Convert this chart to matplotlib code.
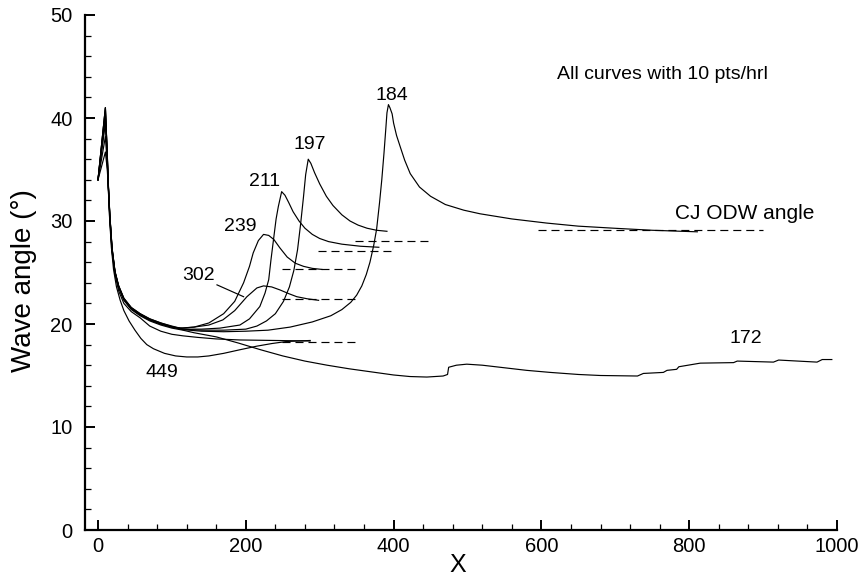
import matplotlib
matplotlib.use("Agg")
import matplotlib.pyplot as plt
from matplotlib.ticker import MultipleLocator

plt.rcParams['font.family'] = ['Liberation Sans', 'DejaVu Sans']

# ---------------- data ----------------
x_172 = [0, 10, 12.5, 14, 16, 19, 23, 28, 35, 45, 57, 70, 85, 100, 115, 130, 160, 190, 220,
         250, 280, 310, 340, 370, 400, 422, 445, 467, 473, 474.5, 485, 499, 520, 544, 580,
         612, 650, 680, 730, 738, 765, 770, 783, 786, 815, 860, 865, 914, 921, 973, 980, 993]
y_172 = [34, 41, 36.3, 33.3, 30.3, 27.1, 24.9, 23.5, 22.3, 21.4, 20.8, 20.3, 19.9, 19.6, 19.4,
         19.15, 18.75, 18.15, 17.5, 16.9, 16.4, 16.0, 15.65, 15.35, 15.05, 14.9, 14.85, 14.95,
         15.1, 15.8, 16.0, 16.1, 16.0, 15.8, 15.5, 15.3, 15.1, 15.0, 14.95, 15.2, 15.3, 15.5,
         15.6, 15.85, 16.2, 16.25, 16.4, 16.3, 16.5, 16.3, 16.55, 16.55]

x_184 = [0, 10, 12.5, 14, 16, 19, 23, 28, 35, 45, 57, 70, 85, 100, 115, 140, 170, 200, 230,
         260, 290, 315, 330, 342, 350, 357, 363, 368, 373, 377, 381, 384, 387, 389.5, 391,
         393, 395, 398, 400, 404, 409, 415, 422.5, 435, 450, 470, 495, 517, 560, 607, 650,
         698, 750, 811]
y_184 = [34, 41, 36.4, 33.4, 30.4, 27.2, 25.0, 23.6, 22.4, 21.5, 20.9, 20.4, 20.0, 19.7,
         19.45, 19.3, 19.25, 19.3, 19.4, 19.7, 20.2, 20.8, 21.4, 22.1, 22.8, 23.7, 24.8, 26.0,
         27.6, 29.2, 31.8, 34.0, 36.6, 39.0, 40.5, 41.3, 41.0, 40.4, 39.5, 38.3, 37.2, 35.9,
         34.6, 33.3, 32.4, 31.6, 31.05, 30.7, 30.2, 29.8, 29.5, 29.3, 29.1, 28.95]

x_197 = [0, 10, 12.5, 14, 16, 19, 23, 28, 35, 45, 57, 70, 85, 100, 115, 140, 170, 200, 215,
         228, 240, 251, 259, 265, 270, 274, 278, 281, 284.5, 288, 293, 300, 309, 318, 330,
         341, 352, 364, 377, 391]
y_197 = [34, 41, 36.5, 33.5, 30.5, 27.3, 25.0, 23.6, 22.4, 21.5, 20.9, 20.4, 20.0, 19.7,
         19.5, 19.4, 19.4, 19.5, 19.8, 20.3, 21.0, 22.2, 23.6, 25.2, 27.2, 29.6, 32.3, 34.5,
         36.0, 35.6, 34.7, 33.6, 32.4, 31.5, 30.6, 30.0, 29.6, 29.3, 29.1, 29.0]

x_211 = [0, 10, 12.5, 14, 16, 19, 23, 28, 35, 45, 57, 70, 85, 100, 115, 140, 165, 192, 205,
         219, 226, 231, 234, 237.5, 241, 244, 248.5, 253, 258, 264, 272, 280, 290, 300, 312,
         330, 355, 380]
y_211 = [34, 40.5, 36.6, 33.6, 30.6, 27.4, 25.1, 23.7, 22.5, 21.6, 21.0, 20.5, 20.1, 19.75,
         19.5, 19.5, 19.6, 19.9, 20.5, 21.7, 23.0, 24.3, 26.2, 28.2, 30.2, 31.4, 32.85, 32.5,
         31.8, 30.9, 30.0, 29.3, 28.7, 28.3, 28.0, 27.75, 27.55, 27.45]

x_239 = [0, 10, 12.5, 14, 16, 19, 23, 28, 35, 45, 57, 70, 85, 100, 115, 130, 150, 170, 185,
         197, 205, 210, 217, 224, 231, 238, 246, 256, 267, 278, 290, 303]
y_239 = [34, 38.2, 35.5, 33.4, 30.5, 27.3, 25.0, 23.6, 22.4, 21.5, 20.9, 20.4, 20.0, 19.7,
         19.6, 19.7, 20.1, 21.0, 22.2, 24.0, 25.6, 26.9, 28.1, 28.7, 28.6, 28.2, 27.4, 26.5,
         25.9, 25.6, 25.4, 25.3]

x_302 = [0, 10, 12.5, 14, 16, 19, 23, 28, 35, 45, 57, 70, 85, 100, 111, 130, 150, 169, 185,
         201.5, 215, 224, 235, 246.5, 258, 269, 283, 298.5]
y_302 = [34, 36.7, 35.0, 33.3, 30.6, 27.4, 25.1, 23.7, 22.5, 21.6, 21.0, 20.5, 20.1, 19.8,
         19.6, 19.7, 19.9, 20.4, 21.3, 22.65, 23.5, 23.7, 23.6, 23.3, 22.95, 22.65, 22.45, 22.3]

x_449 = [0, 10, 12, 13.5, 15.5, 18, 21, 25, 30, 35, 42, 50, 58, 66, 75, 90, 105, 120, 135,
         150, 170, 192, 215, 235, 255, 270, 287]
y_449 = [34, 40, 37, 34, 30.5, 27.5, 25.3, 23.6, 22.3, 21.3, 20.3, 19.4, 18.6, 18.0, 17.6,
         17.15, 16.9, 16.8, 16.8, 16.9, 17.15, 17.5, 17.85, 18.1, 18.3, 18.35, 18.4]

x_extra = [0, 10, 12.5, 14, 16, 19, 23, 28, 35, 45, 57, 70, 85, 100, 115, 135, 160, 192,
           240, 287]
y_extra = [34, 39.5, 36, 33, 30, 27, 24.8, 23.2, 22.0, 21.2, 20.6, 19.8, 19.3, 19.0, 18.85,
           18.7, 18.55, 18.45, 18.4, 18.35]

# CJ ODW angle reference lines
cj_names = ['184', '197', '211', '239', '302', '449']
cj_x0 = [596, 348, 298, 249, 249, 249]
cj_x1 = [900, 450, 400, 350, 350, 350]
cj_y = [29.15, 28.1, 27.1, 25.3, 22.4, 18.25]

# curve labels
lab_text = ['184', '197', '211', '239', '302', '449', '172']
lab_x = [398, 287, 225, 192, 136, 87, 877]
lab_y = [42.2, 37.4, 33.8, 29.5, 24.7, 15.25, 18.6]

# leader line for the 302 label
lead_x = [161, 197]
lead_y = [23.8, 22.65]

# ---------------- plot ----------------
fig = plt.figure(figsize=(8.59, 5.79), dpi=100)
ax = fig.add_axes([85 / 859, 49 / 579, 752 / 859, 515 / 579])

lw = 0.85
for xs, ys in [(x_172, y_172), (x_184, y_184), (x_197, y_197), (x_211, y_211),
               (x_239, y_239), (x_302, y_302), (x_449, y_449), (x_extra, y_extra)]:
    ax.plot(xs, ys, color='black', lw=lw, solid_joinstyle='round')

for a, b, y in zip(cj_x0, cj_x1, cj_y):
    ax.plot([a, b], [y, y], color='black', lw=0.85, dashes=(6.8, 4.2))

ax.plot(lead_x, lead_y, color='black', lw=0.85)

for t, x, y in zip(lab_text, lab_x, lab_y):
    ax.text(x, y, t, fontsize=14, ha='center', va='center')

ax.text(764, 44.2, 'All curves with 10 pts/hrl', fontsize=14, ha='center', va='center')
ax.text(875, 30.7, 'CJ ODW angle', fontsize=15, ha='center', va='center')

ax.set_xlim(-17.6, 1000)
ax.set_ylim(0, 50)
ax.spines['top'].set_visible(False)
ax.spines['right'].set_visible(False)
for s in ['left', 'bottom']:
    ax.spines[s].set_linewidth(1.6)

ax.xaxis.set_major_locator(MultipleLocator(200))
ax.xaxis.set_minor_locator(MultipleLocator(40))
ax.yaxis.set_major_locator(MultipleLocator(10))
ax.yaxis.set_minor_locator(MultipleLocator(2))
ax.tick_params(which='major', direction='in', length=7, width=1.4, labelsize=14.5)
ax.tick_params(which='minor', direction='in', length=4, width=0.9)
ax.tick_params(axis='y', which='major', pad=9)
ax.tick_params(axis='x', which='major', pad=5)

ax.set_xlabel('X', fontsize=18)
ax.set_ylabel('Wave angle (°)', fontsize=20)
ax.xaxis.set_label_coords(0.496, -0.045)
ax.yaxis.set_label_coords(-0.064, 0.485)

fig.savefig('out.png', dpi=100)
